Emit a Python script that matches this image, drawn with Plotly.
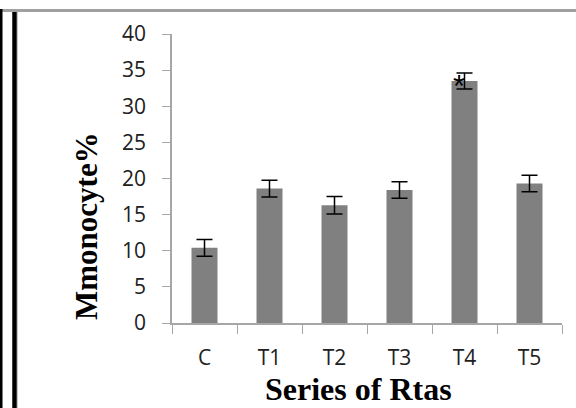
import plotly.graph_objects as go

categories = ["C", "T1", "T2", "T3", "T4", "T5"]
values = [10.4, 18.6, 16.3, 18.4, 33.5, 19.3]
errors = [1.15, 1.15, 1.2, 1.15, 1.1, 1.15]
y_ticks = [0, 5, 10, 15, 20, 25, 30, 35, 40]

W, H = 576, 408
L, R, T, B = 172, 14, 34, 85
pw = W - L - R
ph = H - T - B

def px(x):
    return (x - L) / pw

def py(y):
    return (H - B - y) / ph

fig = go.Figure()
fig.add_trace(go.Bar(
    x=categories, y=values, width=0.4,
    marker=dict(color="#808080", line=dict(width=0)),
    error_y=dict(type="data", array=errors, visible=True, color="#000000",
                 thickness=1.5, width=8),
))

fig.add_annotation(x="T4", y=33.9, text="*", showarrow=False, xshift=-6, yshift=-8,
                   xanchor="center", yanchor="middle",
                   font=dict(family="Liberation Sans", size=31, color="#000000"))

fig.add_annotation(xref="paper", yref="paper", x=px(86), y=py(226), text="<b>Mmonocyte%</b>",
                   textangle=-90, showarrow=False, xanchor="center", yanchor="middle",
                   font=dict(family="Liberation Serif", size=31, color="#000000"))
fig.add_annotation(xref="paper", yref="paper", x=px(358), y=py(389), text="<b>Series of Rtas</b>",
                   showarrow=False, xanchor="center", yanchor="middle",
                   font=dict(family="Liberation Serif", size=32, color="#000000"))

shapes = [
    dict(type="line", xref="paper", yref="paper", x0=px(0), x1=px(576), y0=py(10.5), y1=py(10.5),
         line=dict(color="#a0a0a0", width=3)),
    dict(type="line", xref="paper", yref="paper", x0=px(1), x1=px(1), y0=py(9), y1=py(408),
         line=dict(color="#000000", width=3)),
    dict(type="line", xref="paper", yref="paper", x0=px(14.5), x1=px(14.5), y0=py(12), y1=py(408),
         line=dict(color="#000000", width=4.5)),
    dict(type="line", xref="paper", yref="paper", x0=px(17.5), x1=px(17.5), y0=py(12), y1=py(408),
         line=dict(color="#c8c8c8", width=1)),
]

fig.update_layout(
    width=W, height=H,
    margin=dict(l=L, r=R, t=T, b=B),
    paper_bgcolor="white", plot_bgcolor="white",
    showlegend=False,
    shapes=shapes,
    xaxis=dict(type="category", tickson="boundaries", ticks="outside", ticklen=9,
               tickcolor="#a6a6a6", showline=True, linecolor="#a6a6a6", linewidth=1.5,
               ticklabelstandoff=15,
               showgrid=False, tickfont=dict(family="Open Sans", size=21, color="#202020")),
    yaxis=dict(range=[0, 40], tickvals=y_ticks, ticks="outside", ticklen=8,
               tickcolor="#a6a6a6", showline=True, linecolor="#a6a6a6", linewidth=1.5,
               ticklabelstandoff=12,
               showgrid=False, zeroline=False,
               tickfont=dict(family="Open Sans", size=21, color="#202020")),
)

fig.write_html("out.html")
